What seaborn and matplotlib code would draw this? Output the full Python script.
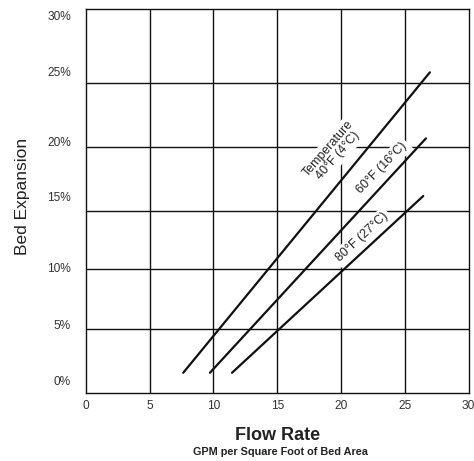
import matplotlib
matplotlib.use("Agg")
import matplotlib.pyplot as plt
import seaborn as sns
import pandas as pd

# ---- data ----
series_names = ["40°F (4°C)", "60°F (16°C)", "80°F (27°C)"]
flow_40 = [7.64, 26.96]
exp_40 = [1.56, 25.07]
flow_60 = [9.73, 26.65]
exp_60 = [1.56, 19.90]
flow_80 = [11.46, 26.44]
exp_80 = [1.56, 15.39]

x_ticks = [0, 5, 10, 15, 20, 25, 30]
y_tick_labels = ["0%", "5%", "10%", "15%", "20%", "25%", "30%"]
# where the y labels sit and where the horizontal rules are drawn in the original
y_label_pos = [0.96, 5.3, 9.78, 15.34, 19.64, 25.17, 29.55]
y_rule_pos = [4.98, 9.66, 14.2, 19.23, 24.2]

df = pd.concat([
    pd.DataFrame({"flow": flow_40, "exp": exp_40, "temp": series_names[0]}),
    pd.DataFrame({"flow": flow_60, "exp": exp_60, "temp": series_names[1]}),
    pd.DataFrame({"flow": flow_80, "exp": exp_80, "temp": series_names[2]}),
])

sns.set_theme(style="white")
plt.rcParams["font.family"] = ["Liberation Sans", "DejaVu Sans"]

fig = plt.figure(figsize=(4.74, 4.61), dpi=100)
ax = fig.add_axes([85.7 / 474, 1 - 392.7 / 461, (468.7 - 85.7) / 474, (392.7 - 9.3) / 461])

sns.lineplot(data=df, x="flow", y="exp", hue="temp", units="temp", estimator=None,
             palette=["#111111"] * 3, linewidth=1.6, legend=False, ax=ax, zorder=3,
             sort=False)

ax.set_xlim(0, 30)
ax.set_ylim(0, 30)
ax.set_xticks(x_ticks)
ax.set_xticklabels([str(v) for v in x_ticks])
ax.set_yticks(y_label_pos)
ax.set_yticklabels(y_tick_labels)
ax.set_yticks(y_rule_pos, minor=True)
ax.tick_params(axis="both", which="both", length=0, labelsize=8.6, labelcolor="#333333")
ax.tick_params(axis="y", pad=10.5)
ax.tick_params(axis="x", pad=5.0)

ax.grid(False)
for xv in x_ticks[1:-1]:
    ax.axvline(xv, color="#111111", lw=1.0, zorder=1)
for yv in y_rule_pos:
    ax.axhline(yv, color="#111111", lw=1.0, zorder=1)

for s in ax.spines.values():
    s.set_visible(True)
    s.set_color("#111111")
    s.set_linewidth(1.0)
    s.set_zorder(4)

ax.set_xlabel("")
ax.set_ylabel("")

box = dict(facecolor="white", edgecolor="none", pad=2.0)
ax.text(19.37, 18.83, "Temperature\n" + series_names[0], rotation=49, rotation_mode="anchor",
        ha="center", va="center", fontsize=9, color="#222222", bbox=box, zorder=2,
        linespacing=1.0)
ax.text(23.2, 17.58, series_names[1], rotation=46, rotation_mode="anchor",
        ha="center", va="center", fontsize=9, color="#222222", bbox=box, zorder=2)
ax.text(21.64, 12.18, series_names[2], rotation=43, rotation_mode="anchor",
        ha="center", va="center", fontsize=9, color="#222222", bbox=box, zorder=2)

fig.text(22.7 / 474, 1 - 196.7 / 461, "Bed Expansion", rotation=90, ha="center", va="center",
         fontsize=12.5, color="#222222")
fig.text(278 / 474, 1 - 435.8 / 461, "Flow Rate", ha="center", va="center",
         fontsize=13, fontweight="bold", color="#222222")
fig.text(280 / 474, 1 - 452.3 / 461, "GPM per Square Foot of Bed Area", ha="center", va="center",
         fontsize=7.8, fontweight="bold", color="#222222")

fig.savefig("out.png", dpi=100)
